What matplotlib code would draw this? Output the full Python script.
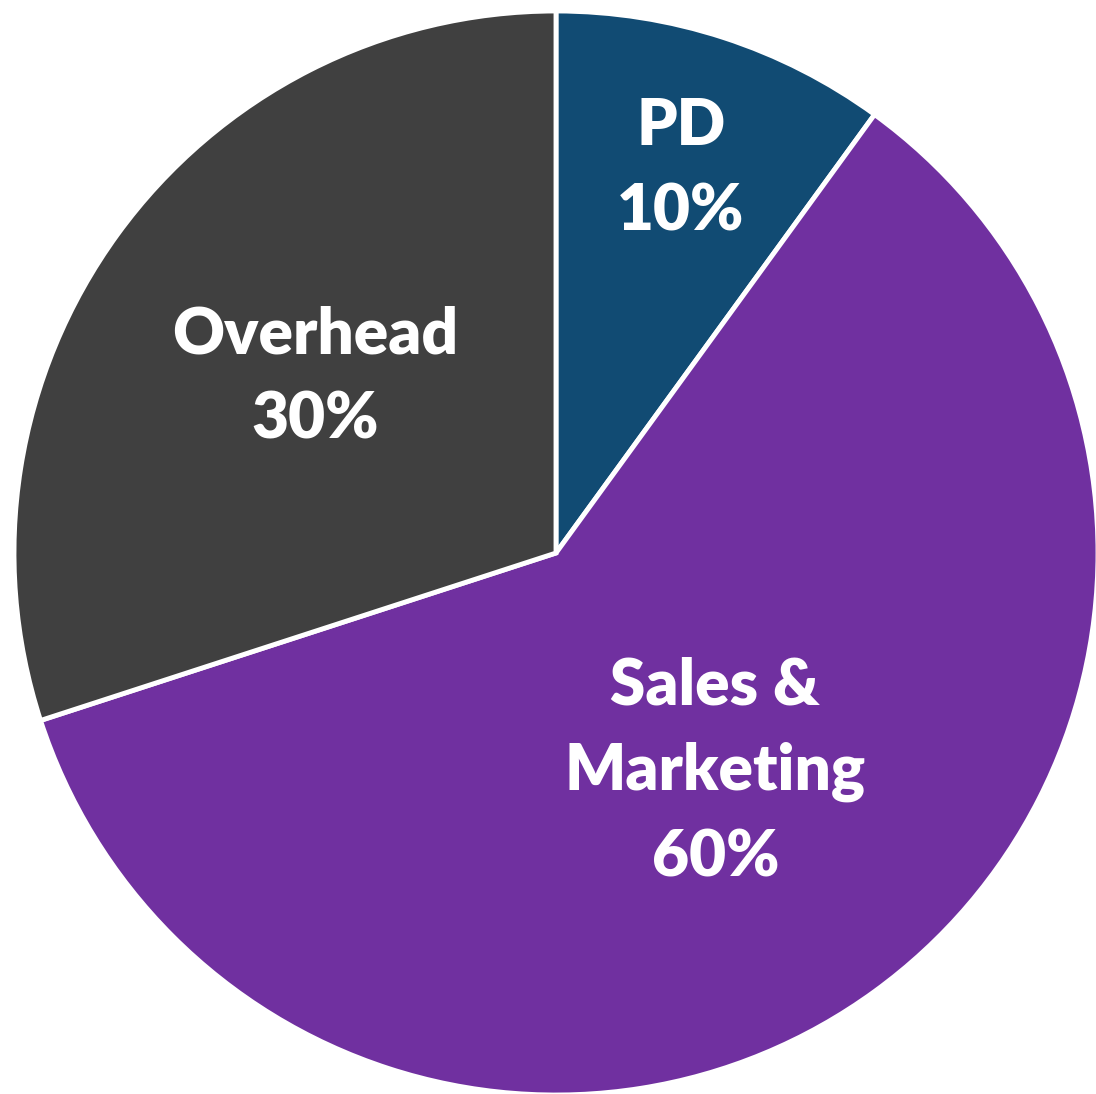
import matplotlib.pyplot as plt
import numpy as np

labels = ["PD", "Sales &\nMarketing", "Overhead"]
shares = [10, 60, 30]
colors = ["#114B73", "#7030A0", "#404040"]

# distance of each label from the centre, as a fraction of the radius
label_dist = [0.745, 0.5, 0.55]

W, H = 1096, 1094
fig = plt.figure(figsize=(W / 100, H / 100), dpi=100)
ax = fig.add_axes([0, 0, 1, 1])

cx, cy, r = 556, H - 553, 542
wedges, _ = ax.pie(shares, colors=colors, startangle=90, counterclock=False,
                   center=(cx, cy), radius=r, frame=True,
                   wedgeprops=dict(edgecolor="white", linewidth=3.5))
ax.set_xlim(0, W)
ax.set_ylim(0, H)
ax.set_aspect("equal")
ax.axis("off")

for w, lab, val, d in zip(wedges, labels, shares, label_dist):
    ang = np.deg2rad((w.theta1 + w.theta2) / 2)
    x = cx + d * r * np.cos(ang)
    y = cy + d * r * np.sin(ang)
    ax.text(x, y, f"{lab}\n{val}%", ha="center", va="center", color="white",
            fontsize=46, fontweight="heavy", family="Lato", linespacing=1.55)

fig.savefig("out.png", dpi=100)
